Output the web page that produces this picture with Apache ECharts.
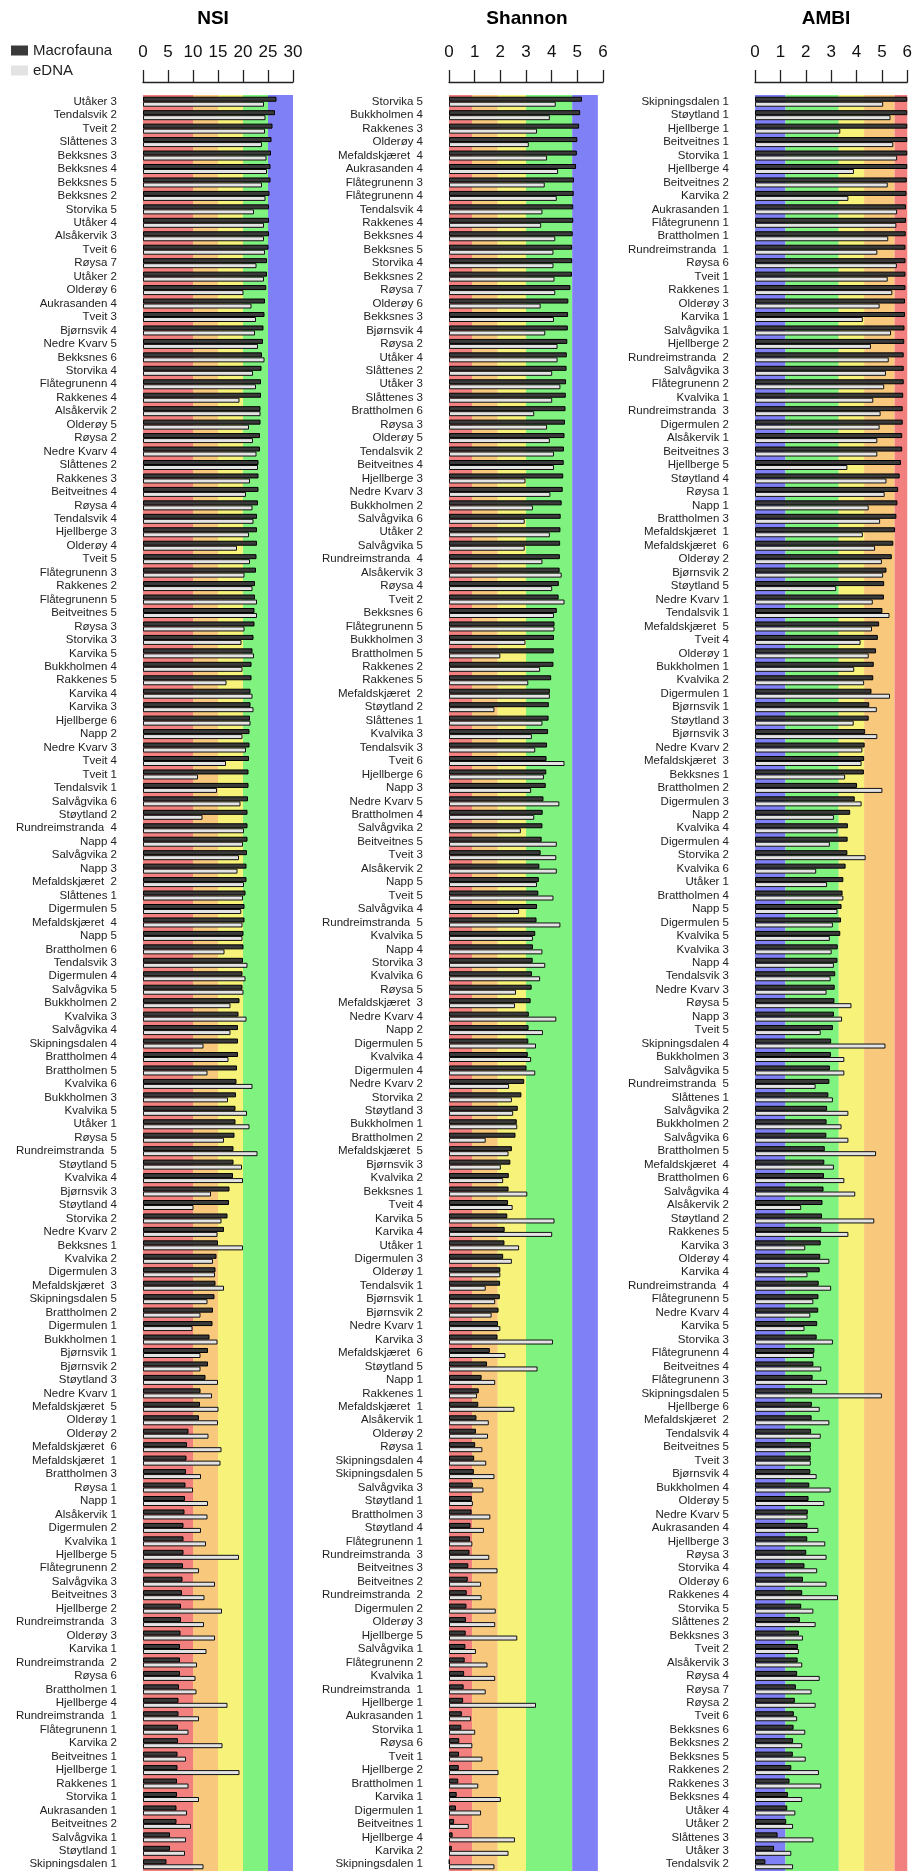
<!DOCTYPE html>
<html>
<head>
    <meta charset="utf-8">
    <title>NSI, Shannon, AMBI</title>
    <script src="https://cdn.jsdelivr.net/npm/echarts@6/dist/echarts.min.js"></script>
    <style>html, body { margin: 0; padding: 0; background: #fff; }</style>
</head>
<body>
<div id="main" style="width: 915px; height: 1871px"></div>
<script type="text/javascript">
    // NSI, sorted by macrofauna value
    var nsiSites = ['Utåker 3', 'Tendalsvik 2', 'Tveit 2', 'Slåttenes 3', 'Bekksnes 3', 'Bekksnes 4', 'Bekksnes 5', 'Bekksnes 2', 'Storvika 5', 'Utåker 4',
        'Alsåkervik 3', 'Tveit 6', 'Røysa 7', 'Utåker 2', 'Olderøy 6', 'Aukrasanden 4', 'Tveit 3', 'Bjørnsvik 4', 'Nedre Kvarv 5', 'Bekksnes 6',
        'Storvika 4', 'Flåtegrunenn 4', 'Rakkenes 4', 'Alsåkervik 2', 'Olderøy 5', 'Røysa 2', 'Nedre Kvarv 4', 'Slåttenes 2', 'Rakkenes 3', 'Beitveitnes 4',
        'Røysa 4', 'Tendalsvik 4', 'Hjellberge 3', 'Olderøy 4', 'Tveit 5', 'Flåtegrunenn 3', 'Rakkenes 2', 'Flåtegrunenn 5', 'Beitveitnes 5', 'Røysa 3',
        'Storvika 3', 'Karvika 5', 'Bukkholmen 4', 'Rakkenes 5', 'Karvika 4', 'Karvika 3', 'Hjellberge 6', 'Napp 2', 'Nedre Kvarv 3', 'Tveit 4',
        'Tveit 1', 'Tendalsvik 1', 'Salvågvika 6', 'Støytland 2', 'Rundreimstranda  4', 'Napp 4', 'Salvågvika 2', 'Napp 3', 'Mefaldskjæret  2', 'Slåttenes 1',
        'Digermulen 5', 'Mefaldskjæret  4', 'Napp 5', 'Brattholmen 6', 'Tendalsvik 3', 'Digermulen 4', 'Salvågvika 5', 'Bukkholmen 2', 'Kvalvika 3', 'Salvågvika 4',
        'Skipningsdalen 4', 'Brattholmen 4', 'Brattholmen 5', 'Kvalvika 6', 'Bukkholmen 3', 'Kvalvika 5', 'Utåker 1', 'Røysa 5', 'Rundreimstranda  5', 'Støytland 5',
        'Kvalvika 4', 'Bjørnsvik 3', 'Støytland 4', 'Storvika 2', 'Nedre Kvarv 2', 'Bekksnes 1', 'Kvalvika 2', 'Digermulen 3', 'Mefaldskjæret  3', 'Skipningsdalen 5',
        'Brattholmen 2', 'Digermulen 1', 'Bukkholmen 1', 'Bjørnsvik 1', 'Bjørnsvik 2', 'Støytland 3', 'Nedre Kvarv 1', 'Mefaldskjæret  5', 'Olderøy 1', 'Olderøy 2',
        'Mefaldskjæret  6', 'Mefaldskjæret  1', 'Brattholmen 3', 'Røysa 1', 'Napp 1', 'Alsåkervik 1', 'Digermulen 2', 'Kvalvika 1', 'Hjellberge 5', 'Flåtegrunenn 2',
        'Salvågvika 3', 'Beitveitnes 3', 'Hjellberge 2', 'Rundreimstranda  3', 'Olderøy 3', 'Karvika 1', 'Rundreimstranda  2', 'Røysa 6', 'Brattholmen 1', 'Hjellberge 4',
        'Rundreimstranda  1', 'Flåtegrunenn 1', 'Karvika 2', 'Beitveitnes 1', 'Hjellberge 1', 'Rakkenes 1', 'Storvika 1', 'Aukrasanden 1', 'Beitveitnes 2', 'Salvågvika 1',
        'Støytland 1', 'Skipningsdalen 1'];
    var nsiMacrofauna = [26.7, 26.4, 25.9, 25.7, 25.6, 25.5, 25.5, 25.3, 25.2, 25.2,
        25.2, 25.1, 24.8, 24.8, 24.65, 24.4, 24.3, 24.1, 24.0, 23.8,
        23.7, 23.6, 23.6, 23.5, 23.5, 23.4, 23.4, 23.1, 23.1, 23.1,
        23.0, 22.8, 22.8, 22.8, 22.7, 22.6, 22.4, 22.4, 22.3, 22.3,
        22.1, 21.9, 21.7, 21.7, 21.5, 21.5, 21.4, 21.3, 21.3, 21.2,
        21.1, 21.1, 21.0, 20.9, 20.9, 20.9, 20.8, 20.7, 20.7, 20.5,
        20.3, 20.3, 20.1, 20.1, 20.0, 19.9, 19.9, 19.3, 19.1, 19.0,
        19.0, 19.0, 18.8, 18.7, 18.6, 18.5, 18.5, 18.3, 18.1, 18.1,
        18.0, 17.3, 17.2, 16.9, 16.2, 15.0, 14.7, 14.5, 14.5, 14.3,
        14.0, 13.9, 13.3, 13.0, 13.0, 12.5, 11.5, 11.4, 11.2, 9.1,
        8.8, 8.7, 8.6, 8.5, 8.4, 8.3, 8.1, 8.1, 8.1, 8.0,
        7.9, 7.8, 7.6, 7.6, 7.5, 7.4, 7.4, 7.4, 7.2, 7.1,
        7.1, 7.0, 7.0, 6.9, 6.9, 6.8, 6.8, 6.7, 6.7, 5.4,
        5.4, 4.7];
    var nsiEdna = [24.2, 24.5, 24.4, 23.8, 24.7, 24.8, 23.8, 24.5, 22.2, 24.2,
        24.2, 24.4, 22.7, 24.2, 20.1, 21.7, 22.6, 22.4, 23.0, 24.3,
        22.0, 22.6, 19.3, 23.5, 21.2, 22.0, 22.7, 23.0, 21.4, 20.6,
        21.9, 22.1, 21.2, 18.8, 21.4, 20.3, 21.9, 22.8, 22.8, 20.3,
        19.7, 22.2, 19.9, 16.7, 21.9, 22.1, 21.5, 19.9, 20.6, 16.6,
        11.0, 14.8, 19.5, 11.9, 20.2, 20.0, 19.2, 18.9, 20.2, 20.0,
        19.65, 19.9, 19.9, 16.3, 20.9, 20.5, 20.1, 17.5, 20.7, 17.5,
        12.1, 17.1, 12.9, 21.9, 17.0, 20.8, 21.3, 16.2, 22.9, 19.8,
        20.0, 13.6, 10.1, 15.7, 14.9, 20.0, 14.0, 14.4, 16.2, 12.9,
        11.5, 9.9, 14.9, 11.5, 11.5, 15.0, 13.8, 15.1, 15.0, 13.1,
        15.7, 15.5, 11.6, 10.0, 13.0, 12.9, 11.6, 12.6, 19.2, 11.2,
        14.4, 12.3, 15.8, 12.2, 14.4, 12.7, 10.8, 10.5, 10.7, 16.9,
        11.2, 9.1, 15.9, 8.6, 19.3, 9.1, 11.2, 8.8, 9.6, 8.6,
        8.4, 12.1];

    // Shannon
    var shannonSites = ['Storvika 5', 'Bukkholmen 4', 'Rakkenes 3', 'Olderøy 4', 'Mefaldskjæret  4', 'Aukrasanden 4', 'Flåtegrunenn 3', 'Flåtegrunenn 4', 'Tendalsvik 4', 'Rakkenes 4',
        'Bekksnes 4', 'Bekksnes 5', 'Storvika 4', 'Bekksnes 2', 'Røysa 7', 'Olderøy 6', 'Bekksnes 3', 'Bjørnsvik 4', 'Røysa 2', 'Utåker 4',
        'Slåttenes 2', 'Utåker 3', 'Slåttenes 3', 'Brattholmen 6', 'Røysa 3', 'Olderøy 5', 'Tendalsvik 2', 'Beitveitnes 4', 'Hjellberge 3', 'Nedre Kvarv 3',
        'Bukkholmen 2', 'Salvågvika 6', 'Utåker 2', 'Salvågvika 5', 'Rundreimstranda  4', 'Alsåkervik 3', 'Røysa 4', 'Tveit 2', 'Bekksnes 6', 'Flåtegrunenn 5',
        'Bukkholmen 3', 'Brattholmen 5', 'Rakkenes 2', 'Rakkenes 5', 'Mefaldskjæret  2', 'Støytland 2', 'Slåttenes 1', 'Kvalvika 3', 'Tendalsvik 3', 'Tveit 6',
        'Hjellberge 6', 'Napp 3', 'Nedre Kvarv 5', 'Brattholmen 4', 'Salvågvika 2', 'Beitveitnes 5', 'Tveit 3', 'Alsåkervik 2', 'Napp 5', 'Tveit 5',
        'Salvågvika 4', 'Rundreimstranda  5', 'Kvalvika 5', 'Napp 4', 'Storvika 3', 'Kvalvika 6', 'Røysa 5', 'Mefaldskjæret  3', 'Nedre Kvarv 4', 'Napp 2',
        'Digermulen 5', 'Kvalvika 4', 'Digermulen 4', 'Nedre Kvarv 2', 'Storvika 2', 'Støytland 3', 'Bukkholmen 1', 'Brattholmen 2', 'Mefaldskjæret  5', 'Bjørnsvik 3',
        'Kvalvika 2', 'Bekksnes 1', 'Tveit 4', 'Karvika 5', 'Karvika 4', 'Utåker 1', 'Digermulen 3', 'Olderøy 1', 'Tendalsvik 1', 'Bjørnsvik 1',
        'Bjørnsvik 2', 'Nedre Kvarv 1', 'Karvika 3', 'Mefaldskjæret  6', 'Støytland 5', 'Napp 1', 'Rakkenes 1', 'Mefaldskjæret  1', 'Alsåkervik 1', 'Olderøy 2',
        'Røysa 1', 'Skipningsdalen 4', 'Skipningsdalen 5', 'Salvågvika 3', 'Støytland 1', 'Brattholmen 3', 'Støytland 4', 'Flåtegrunenn 1', 'Rundreimstranda  3', 'Beitveitnes 3',
        'Beitveitnes 2', 'Rundreimstranda  2', 'Digermulen 2', 'Olderøy 3', 'Hjellberge 5', 'Salvågvika 1', 'Flåtegrunenn 2', 'Kvalvika 1', 'Rundreimstranda  1', 'Hjellberge 1',
        'Aukrasanden 1', 'Storvika 1', 'Røysa 6', 'Tveit 1', 'Hjellberge 2', 'Brattholmen 1', 'Karvika 1', 'Digermulen 1', 'Beitveitnes 1', 'Hjellberge 4',
        'Karvika 2', 'Skipningsdalen 1'];
    var shannonMacrofauna = [5.18, 5.11, 5.07, 5.0, 4.98, 4.95, 4.87, 4.86, 4.84, 4.84,
        4.82, 4.8, 4.8, 4.79, 4.73, 4.65, 4.64, 4.63, 4.61, 4.59,
        4.58, 4.56, 4.55, 4.54, 4.52, 4.5, 4.48, 4.47, 4.45, 4.43,
        4.39, 4.35, 4.34, 4.33, 4.32, 4.31, 4.28, 4.27, 4.2, 4.11,
        4.09, 4.08, 4.07, 3.98, 3.93, 3.89, 3.88, 3.86, 3.82, 3.8,
        3.79, 3.77, 3.68, 3.65, 3.64, 3.61, 3.57, 3.52, 3.5, 3.48,
        3.43, 3.41, 3.36, 3.27, 3.26, 3.23, 3.22, 3.18, 3.11, 3.1,
        3.09, 3.07, 3.02, 2.93, 2.82, 2.68, 2.64, 2.59, 2.45, 2.39,
        2.33, 2.32, 2.3, 2.27, 2.17, 2.16, 2.11, 2.0, 1.99, 1.98,
        1.93, 1.91, 1.89, 1.59, 1.48, 1.27, 1.16, 1.14, 1.07, 1.05,
        1.02, 0.98, 0.97, 0.93, 0.89, 0.88, 0.84, 0.82, 0.8, 0.75,
        0.73, 0.69, 0.68, 0.66, 0.65, 0.64, 0.61, 0.59, 0.57, 0.55,
        0.5, 0.48, 0.4, 0.39, 0.38, 0.36, 0.3, 0.27, 0.2, 0.14,
        0.11, 0.02];
    var shannonEdna = [4.16, 3.93, 3.43, 3.11, 3.82, 4.25, 3.73, 4.2, 3.64, 3.59,
        4.14, 4.07, 4.07, 4.11, 4.14, 3.57, 4.09, 3.75, 4.23, 4.23,
        4.02, 4.34, 4.02, 3.32, 3.82, 3.93, 4.09, 4.09, 2.98, 3.95,
        3.27, 2.95, 3.93, 2.95, 3.64, 4.39, 4.02, 4.5, 4.09, 4.11,
        2.98, 2.0, 3.55, 3.09, 3.93, 1.77, 3.64, 3.23, 3.36, 4.5,
        3.7, 3.2, 4.3, 3.32, 2.8, 4.2, 4.18, 4.2, 3.43, 4.07,
        2.73, 4.34, 3.27, 3.64, 3.75, 3.55, 2.61, 2.57, 4.18, 3.66,
        3.39, 3.2, 3.36, 2.34, 2.45, 2.5, 2.66, 1.43, 2.32, 2.02,
        2.11, 3.05, 2.48, 4.11, 4.02, 2.73, 2.45, 2.0, 1.43, 1.8,
        1.66, 2.0, 4.05, 2.2, 3.45, 1.8, 1.09, 2.55, 1.55, 1.52,
        1.3, 1.45, 1.77, 1.34, 0.93, 1.61, 1.36, 0.91, 1.57, 1.89,
        1.25, 1.27, 1.82, 1.8, 2.66, 1.05, 1.5, 1.8, 1.43, 3.39,
        0.86, 1.02, 0.91, 1.3, 1.93, 1.14, 2.02, 1.25, 0.77, 2.57,
        2.32, 1.77];

    // AMBI
    var ambiSites = ['Skipningsdalen 1', 'Støytland 1', 'Hjellberge 1', 'Beitveitnes 1', 'Storvika 1', 'Hjellberge 4', 'Beitveitnes 2', 'Karvika 2', 'Aukrasanden 1', 'Flåtegrunenn 1',
        'Brattholmen 1', 'Rundreimstranda  1', 'Røysa 6', 'Tveit 1', 'Rakkenes 1', 'Olderøy 3', 'Karvika 1', 'Salvågvika 1', 'Hjellberge 2', 'Rundreimstranda  2',
        'Salvågvika 3', 'Flåtegrunenn 2', 'Kvalvika 1', 'Rundreimstranda  3', 'Digermulen 2', 'Alsåkervik 1', 'Beitveitnes 3', 'Hjellberge 5', 'Støytland 4', 'Røysa 1',
        'Napp 1', 'Brattholmen 3', 'Mefaldskjæret  1', 'Mefaldskjæret  6', 'Olderøy 2', 'Bjørnsvik 2', 'Støytland 5', 'Nedre Kvarv 1', 'Tendalsvik 1', 'Mefaldskjæret  5',
        'Tveit 4', 'Olderøy 1', 'Bukkholmen 1', 'Kvalvika 2', 'Digermulen 1', 'Bjørnsvik 1', 'Støytland 3', 'Bjørnsvik 3', 'Nedre Kvarv 2', 'Mefaldskjæret  3',
        'Bekksnes 1', 'Brattholmen 2', 'Digermulen 3', 'Napp 2', 'Kvalvika 4', 'Digermulen 4', 'Storvika 2', 'Kvalvika 6', 'Utåker 1', 'Brattholmen 4',
        'Napp 5', 'Digermulen 5', 'Kvalvika 5', 'Kvalvika 3', 'Napp 4', 'Tendalsvik 3', 'Nedre Kvarv 3', 'Røysa 5', 'Napp 3', 'Tveit 5',
        'Skipningsdalen 4', 'Bukkholmen 3', 'Salvågvika 5', 'Rundreimstranda  5', 'Slåttenes 1', 'Salvågvika 2', 'Bukkholmen 2', 'Salvågvika 6', 'Brattholmen 5', 'Mefaldskjæret  4',
        'Brattholmen 6', 'Salvågvika 4', 'Alsåkervik 2', 'Støytland 2', 'Rakkenes 5', 'Karvika 3', 'Olderøy 4', 'Karvika 4', 'Rundreimstranda  4', 'Flåtegrunenn 5',
        'Nedre Kvarv 4', 'Karvika 5', 'Storvika 3', 'Flåtegrunenn 4', 'Beitveitnes 4', 'Flåtegrunenn 3', 'Skipningsdalen 5', 'Hjellberge 6', 'Mefaldskjæret  2', 'Tendalsvik 4',
        'Beitveitnes 5', 'Tveit 3', 'Bjørnsvik 4', 'Bukkholmen 4', 'Olderøy 5', 'Nedre Kvarv 5', 'Aukrasanden 4', 'Hjellberge 3', 'Røysa 3', 'Storvika 4',
        'Olderøy 6', 'Rakkenes 4', 'Storvika 5', 'Slåttenes 2', 'Bekksnes 3', 'Tveit 2', 'Alsåkervik 3', 'Røysa 4', 'Røysa 7', 'Røysa 2',
        'Tveit 6', 'Bekksnes 6', 'Bekksnes 2', 'Bekksnes 5', 'Rakkenes 2', 'Rakkenes 3', 'Bekksnes 4', 'Utåker 4', 'Utåker 2', 'Slåttenes 3',
        'Utåker 3', 'Tendalsvik 2'];
    var ambiMacrofauna = [6.0, 6.0, 6.0, 6.0, 6.0, 6.0, 5.98, 5.97, 5.95, 5.95,
        5.94, 5.93, 5.93, 5.93, 5.93, 5.91, 5.91, 5.89, 5.88, 5.86,
        5.86, 5.86, 5.84, 5.82, 5.82, 5.8, 5.8, 5.75, 5.7, 5.64,
        5.61, 5.57, 5.52, 5.45, 5.39, 5.18, 5.09, 5.08, 5.02, 4.89,
        4.84, 4.77, 4.68, 4.66, 4.59, 4.5, 4.48, 4.34, 4.32, 4.3,
        4.29, 4.02, 3.93, 3.75, 3.66, 3.65, 3.64, 3.57, 3.48, 3.45,
        3.41, 3.39, 3.36, 3.26, 3.25, 3.16, 3.14, 3.13, 3.11, 3.07,
        3.0, 2.99, 2.95, 2.93, 2.89, 2.84, 2.82, 2.81, 2.75, 2.73,
        2.72, 2.7, 2.66, 2.64, 2.61, 2.59, 2.57, 2.55, 2.51, 2.5,
        2.49, 2.45, 2.43, 2.34, 2.3, 2.27, 2.25, 2.24, 2.23, 2.21,
        2.2, 2.19, 2.18, 2.14, 2.11, 2.08, 2.07, 2.06, 2.02, 1.95,
        1.89, 1.86, 1.82, 1.77, 1.73, 1.69, 1.68, 1.66, 1.61, 1.57,
        1.53, 1.52, 1.5, 1.49, 1.43, 1.36, 1.3, 1.27, 1.23, 0.89,
        0.75, 0.41];
    var ambiEdna = [5.05, 5.34, 3.36, 5.45, 5.6, 3.9, 5.23, 3.68, 5.6, 5.57,
        5.25, 4.82, 5.59, 5.23, 5.41, 4.91, 4.25, 5.36, 4.57, 5.27,
        5.16, 5.09, 4.66, 4.95, 4.91, 4.82, 4.82, 3.64, 5.18, 5.11,
        4.48, 4.93, 4.25, 4.73, 5.0, 5.05, 3.2, 4.64, 5.3, 4.61,
        4.16, 4.48, 3.91, 4.3, 5.32, 4.8, 3.89, 4.82, 4.23, 4.2,
        3.55, 5.02, 4.2, 3.11, 3.25, 2.95, 4.36, 2.41, 2.84, 3.48,
        3.25, 3.07, 2.95, 3.02, 3.11, 2.98, 2.82, 3.8, 3.43, 2.59,
        5.14, 3.52, 3.52, 2.39, 3.07, 3.68, 3.41, 3.68, 4.77, 3.11,
        3.52, 3.95, 1.82, 4.7, 3.68, 1.98, 2.93, 2.07, 3.0, 2.3,
        2.18, 1.95, 3.07, 2.32, 2.61, 2.84, 5.0, 2.55, 2.93, 2.59,
        2.2, 2.2, 2.43, 2.98, 2.73, 2.07, 2.5, 2.77, 2.82, 2.45,
        2.82, 3.27, 2.3, 2.39, 1.89, 1.73, 1.86, 2.55, 2.23, 2.39,
        1.66, 1.98, 1.86, 2.0, 2.52, 2.61, 1.86, 1.59, 1.5, 2.3,
        1.43, 1.5];

    // class limits (background bands)
    var nsiLimits = [0, 10, 15, 20, 25, 30];
    var shannonLimits = [0, 0.9, 1.9, 3.0, 4.8, 5.8];
    var ambiLimits = [0, 1.2, 3.3, 4.3, 5.5, 6];

    var RED = '#f2807e', ORANGE = '#f8c87c', YELLOW = '#f6f27a', GREEN = '#7ff27f', BLUE = '#8080f6';
    var FONT = '"Liberation Sans", Arial, Helvetica, sans-serif';

    var panels = [
        {title: 'NSI', sites: nsiSites, macro: nsiMacrofauna, edna: nsiEdna, max: 30, interval: 5,
            limits: nsiLimits, colors: [RED, ORANGE, YELLOW, GREEN, BLUE], left: 143, width: 150, titleX: 213},
        {title: 'Shannon', sites: shannonSites, macro: shannonMacrofauna, edna: shannonEdna, max: 6, interval: 1,
            limits: shannonLimits, colors: [RED, ORANGE, YELLOW, GREEN, BLUE], left: 449, width: 154, titleX: 527},
        {title: 'AMBI', sites: ambiSites, macro: ambiMacrofauna, edna: ambiEdna, max: 6, interval: 1,
            limits: ambiLimits, colors: [BLUE, GREEN, YELLOW, ORANGE, RED], left: 755, width: 154, titleX: 826}
    ];

    function bands(limits, colors) {
        var out = [];
        for (var i = 0; i < colors.length; i++) {
            out.push([{xAxis: limits[i], itemStyle: {color: colors[i]}}, {xAxis: limits[i + 1]}]);
        }
        return out;
    }

    var option = {
        animation: false,
        textStyle: {fontFamily: FONT},
        legend: {
            orient: 'vertical', left: 6, top: 38,
            data: ['Macrofauna', 'eDNA'],
            icon: 'rect', itemWidth: 17, itemHeight: 10, itemGap: 5,
            itemStyle: {borderWidth: 0},
            textStyle: {fontSize: 15, color: '#222', fontFamily: FONT}
        },
        grid: [], xAxis: [], yAxis: [], series: [], graphic: []
    };

    panels.forEach(function (p, i) {
        option.grid.push({left: p.left, width: p.width, top: 95, bottom: 0});
        option.xAxis.push({
            gridIndex: i, type: 'value', position: 'top', offset: 13,
            min: 0, max: p.max, interval: p.interval,
            axisLine: {show: true, lineStyle: {color: '#222', width: 1.3}},
            axisTick: {show: true, length: 12, lineStyle: {color: '#222', width: 1.3}},
            axisLabel: {fontSize: 17, color: '#111', margin: 21, fontFamily: FONT},
            splitLine: {show: false}
        });
        option.yAxis.push({
            gridIndex: i, type: 'category', inverse: true, data: p.sites,
            axisLine: {show: false}, axisTick: {show: false},
            axisLabel: {interval: 0, fontSize: 11.5, color: '#222', margin: 26, fontFamily: FONT}
        });
        option.series.push({
            name: 'Macrofauna', type: 'bar', xAxisIndex: i, yAxisIndex: i, data: p.macro,
            barWidth: 5, barGap: '0%',
            itemStyle: {color: '#3a3a3a', borderColor: '#000', borderWidth: 1},
            markArea: {silent: true, data: bands(p.limits, p.colors)}
        });
        option.series.push({
            name: 'eDNA', type: 'bar', xAxisIndex: i, yAxisIndex: i, data: p.edna,
            barWidth: 5, barGap: '0%',
            itemStyle: {color: '#e3e3e3', borderColor: '#111', borderWidth: 1}
        });
        option.graphic.push({
            type: 'text', x: p.titleX, y: 19,
            style: {text: p.title, font: 'bold 19px ' + FONT, fill: '#000', align: 'center', verticalAlign: 'middle'}
        });
    });

    var myChart = echarts.init(document.getElementById('main'));
    myChart.setOption(option);
</script>
</body>
</html>
